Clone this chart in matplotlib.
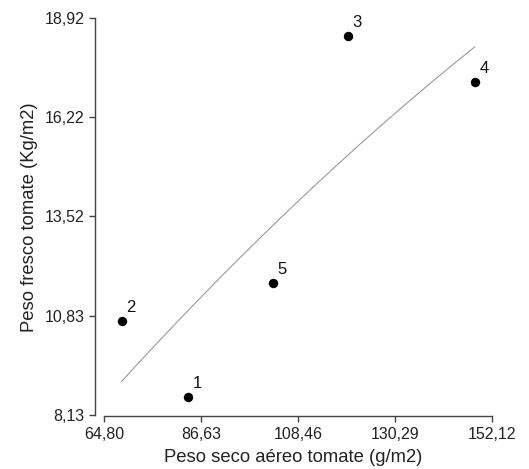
import matplotlib
matplotlib.use("Agg")
import matplotlib.pyplot as plt
import numpy as np

plt.rcParams['font.family'] = ['Liberation Sans', 'DejaVu Sans']

# Data
point_labels = ["1", "2", "3", "4", "5"]
peso_seco = [83.74, 68.69, 119.63, 148.17, 102.84]
peso_fresco = [8.62, 10.68, 18.43, 17.17, 11.72]

x_ticks = [64.80, 86.63, 108.46, 130.29, 152.12]
y_ticks = [8.13, 10.83, 13.52, 16.22, 18.92]

fig = plt.figure(figsize=(5.29, 4.69), dpi=100)
ax = fig.add_axes([94.5/529, 53/469, (492.3-94.5)/529, (416-17.7)/469])

# Quadratic fit through the data
coef = np.polyfit(peso_seco, peso_fresco, 2)
xs = np.linspace(min(peso_seco), max(peso_seco), 200)
ax.plot(xs, np.polyval(coef, xs), color='#9a9a9a', lw=0.8, zorder=1)

ax.scatter(peso_seco, peso_fresco, s=46, color='black', zorder=3, linewidths=0)
for lab, x, y in zip(point_labels, peso_seco, peso_fresco):
    ax.annotate(lab, (x, y), xytext=(6.5, 9.6), textcoords='offset points',
                ha='center', va='center', fontsize=12, color='#111111')

ax.set_xlim(62.6, 152.12)
ax.set_ylim(8.10, 18.92)
ax.set_xticks(x_ticks)
ax.set_yticks(y_ticks)
ax.set_xticklabels([f"{v:.2f}".replace('.', ',') for v in x_ticks])
ax.set_yticklabels([f"{v:.2f}".replace('.', ',') for v in y_ticks])

for s in ['top', 'right']:
    ax.spines[s].set_visible(False)
ax.spines['left'].set_bounds(8.13, 18.92)
ax.spines['bottom'].set_bounds(64.80, 152.12)
for s in ['left', 'bottom']:
    ax.spines[s].set_color('#444444')
    ax.spines[s].set_linewidth(1.0)
ax.tick_params(axis='both', direction='out', length=4.5, width=1.0, color='#444444',
               labelsize=11.5, labelcolor='#222222')
ax.tick_params(axis='x', pad=3.5)
ax.tick_params(axis='y', pad=2.5)

ax.set_xlabel("Peso seco aéreo tomate (g/m2)", fontsize=13.3, color='#222222', labelpad=5.0)
ax.set_ylabel("Peso fresco tomate (Kg/m2)", fontsize=13.3, color='#222222', labelpad=5.0)
for t in ax.get_xticklabels() + ax.get_yticklabels():
    t.set_clip_on(False)

fig.savefig("out.png", dpi=100)
